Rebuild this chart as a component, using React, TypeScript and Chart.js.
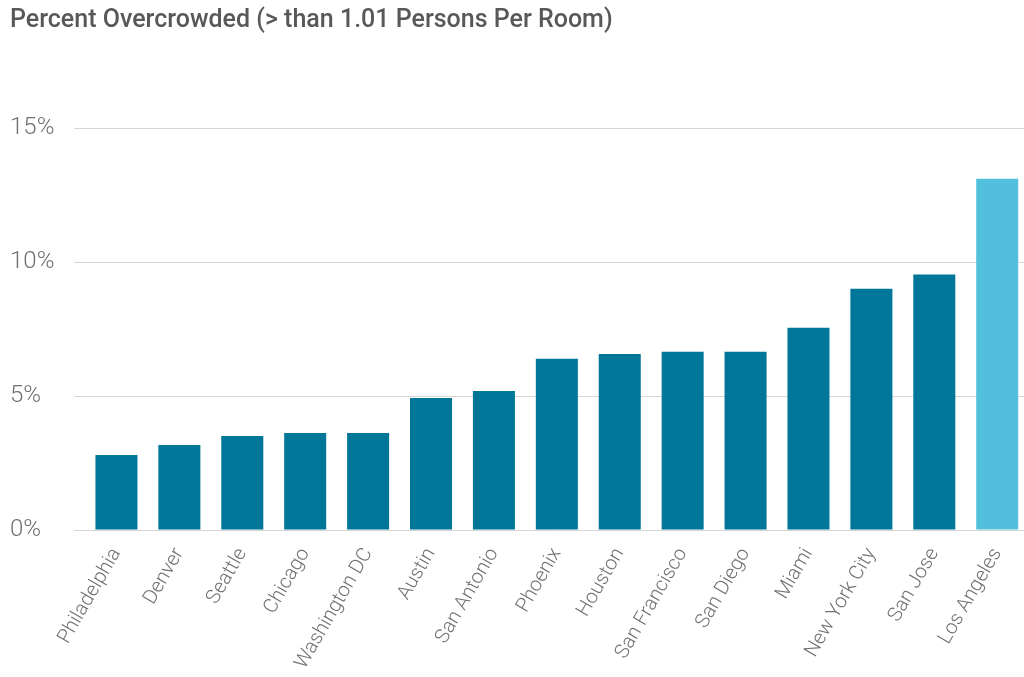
import React, { useEffect, useRef } from "react";
import { Chart, registerables } from "chart.js";

Chart.register(...registerables);

// Share of housing units with more than 1.01 persons per room, by city
const cities = [
  "Philadelphia",
  "Denver",
  "Seattle",
  "Chicago",
  "Washington DC",
  "Austin",
  "San Antonio",
  "Phoenix",
  "Houston",
  "San Francisco",
  "San Diego",
  "Miami",
  "New York City",
  "San Jose",
  "Los Angeles",
];

const overcrowdedPct = [2.8, 3.17, 3.51, 3.62, 3.62, 4.93, 5.19, 6.39, 6.57, 6.65, 6.65, 7.55, 9.0, 9.53, 13.11];

const highlightCity = "Los Angeles";

const yTicks = [0, 5, 10, 15];

const TITLE = "Percent Overcrowded (> than 1.01 Persons Per Room)";

const BAR_COLOR = "#007799";
const HIGHLIGHT_COLOR = "#52c0dc";

export default function App() {
  const canvasRef = useRef<HTMLCanvasElement | null>(null);

  useEffect(() => {
    document.body.style.margin = "0";
    const canvas = canvasRef.current;
    if (!canvas) return;

    const chart = new Chart(canvas, {
      type: "bar",
      data: {
        labels: cities,
        datasets: [
          {
            data: overcrowdedPct,
            backgroundColor: cities.map((c) => (c === highlightCity ? HIGHLIGHT_COLOR : BAR_COLOR)),
            categoryPercentage: 1,
            barPercentage: 0.668,
            borderWidth: 0,
          },
        ],
      },
      options: {
        animation: false,
        responsive: false,
        maintainAspectRatio: false,
        layout: { padding: { left: 10, right: 0, top: 0, bottom: 0 } },
        plugins: {
          legend: { display: false },
          tooltip: { enabled: false },
          title: {
            display: true,
            text: TITLE,
            align: "start",
            color: "#585858",
            font: { family: "Roboto", size: 25, weight: 500 },
            padding: { top: 6, bottom: 92 },
          },
        },
        scales: {
          x: {
            grid: { display: false, drawTicks: false },
            border: { display: false },
            ticks: {
              color: "#707070",
              font: { family: "Roboto", size: 20, weight: 300 },
              minRotation: 60,
              maxRotation: 60,
              padding: 14,
              autoSkip: false,
            },
            afterFit: (scale: any) => {
              scale.height = 147;
            },
          },
          y: {
            min: 0,
            max: 15,
            afterBuildTicks: (scale: any) => {
              scale.ticks = yTicks.map((v) => ({ value: v }));
            },
            grid: { color: "#d6d6d6", lineWidth: 1, tickLength: 11, drawTicks: true },
            border: { display: false },
            ticks: {
              color: "#707070",
              font: { family: "Roboto", size: 24, weight: 300 },
              crossAlign: "far",
              padding: 0,
              callback: (v: any) => `${v}%`,
            },
            afterFit: (scale: any) => {
              scale.width = 75;
            },
          },
        },
      },
    });

    return () => chart.destroy();
  }, []);

  return (
    <div style={{ position: "fixed", left: 0, top: 0, width: 1024, height: 677, overflow: "hidden", background: "#fff" }}>
      <canvas ref={canvasRef} width={1032} height={677} style={{ display: "block", width: 1032, height: 677 }} />
    </div>
  );
}
